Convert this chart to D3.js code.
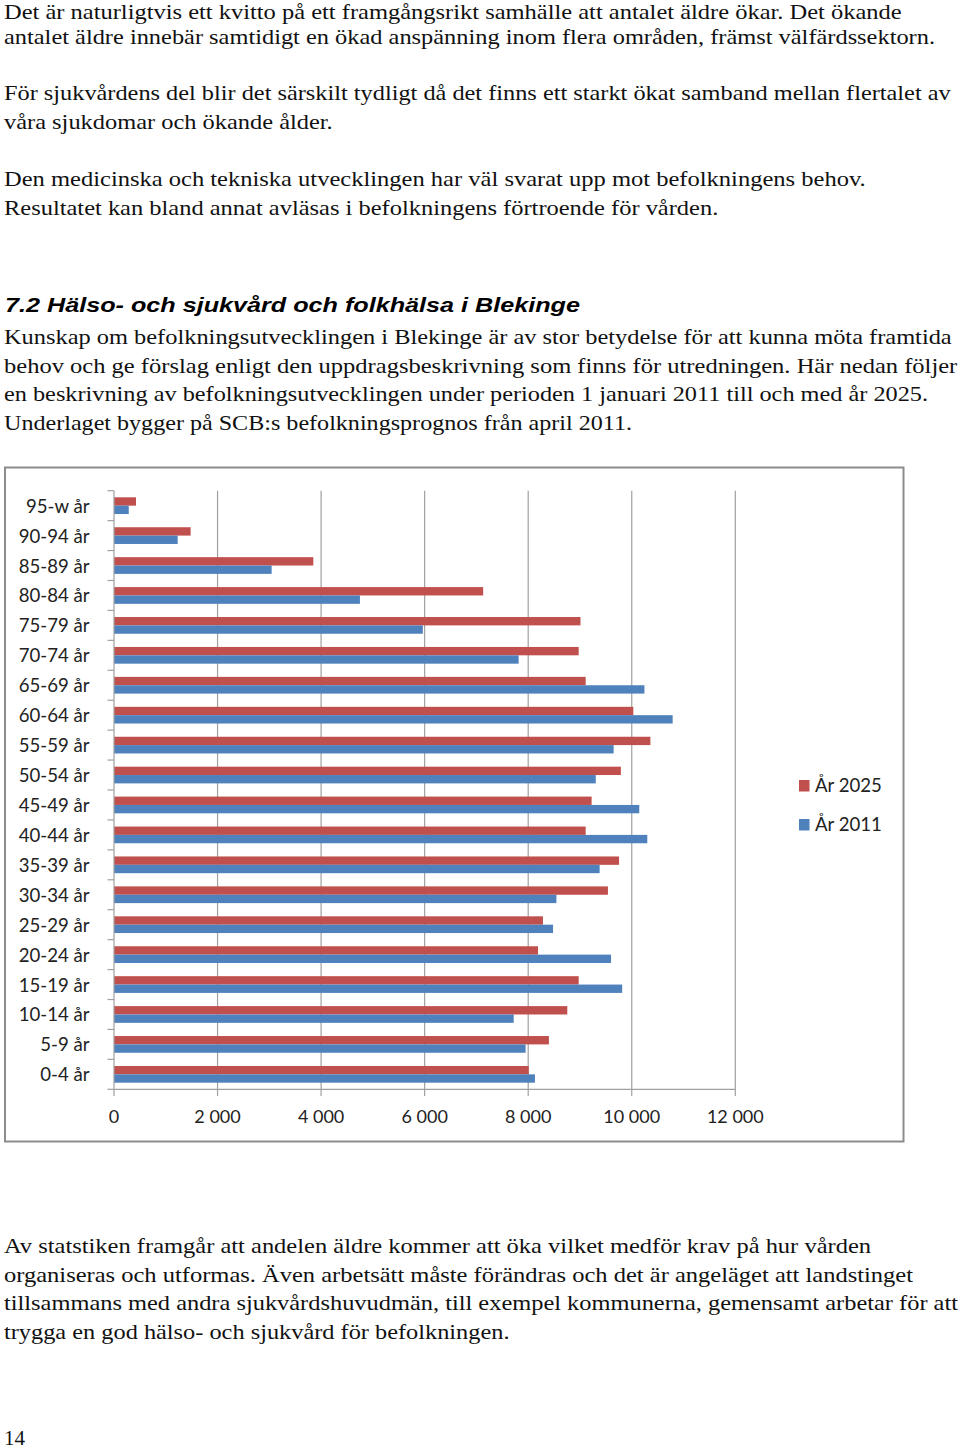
<!DOCTYPE html>
<html><head><meta charset="utf-8">
<script src="https://cdn.jsdelivr.net/npm/d3@7"></script>
<style>html,body{margin:0;padding:0;background:#fff;}svg{display:block;}</style>
</head><body>
<svg id="page" width="960" height="1450"></svg>
<script>
// ---- data ----
const categories = ["95-w år","90-94 år","85-89 år","80-84 år","75-79 år","70-74 år","65-69 år","60-64 år","55-59 år","50-54 år","45-49 år","40-44 år","35-39 år","30-34 år","25-29 år","20-24 år","15-19 år","10-14 år","5-9 år","0-4 år"];
const values2025 = [425,1480,3850,7130,9010,8975,9110,10030,10360,9790,9225,9110,9755,9540,8285,8190,8975,8755,8400,8010];
const values2011 = [285,1230,3045,4750,5965,7815,10245,10790,9650,9305,10145,10300,9380,8545,8480,9600,9815,7720,7950,8130];
const seriesNames = ["År 2025","År 2011"];
const xTicks = [0,2000,4000,6000,8000,10000,12000];
const xTickLabels = ["0","2 000","4 000","6 000","8 000","10 000","12 000"];

const introLines = [
  "Det är naturligtvis ett kvitto på ett framgångsrikt samhälle att antalet äldre ökar. Det ökande",
  "antalet äldre innebär samtidigt en ökad anspänning inom flera områden, främst välfärdssektorn.",
  "För sjukvårdens del blir det särskilt tydligt då det finns ett starkt ökat samband mellan flertalet av",
  "våra sjukdomar och ökande ålder.",
  "Den medicinska och tekniska utvecklingen har väl svarat upp mot befolkningens behov.",
  "Resultatet kan bland annat avläsas i befolkningens förtroende för vården."
];
const heading = "7.2 Hälso- och sjukvård och folkhälsa i Blekinge";
const para2Lines = [
  "Kunskap om befolkningsutvecklingen i Blekinge är av stor betydelse för att kunna möta framtida",
  "behov och ge förslag enligt den uppdragsbeskrivning som finns för utredningen. Här nedan följer",
  "en beskrivning av befolkningsutvecklingen under perioden 1 januari 2011 till och med år 2025.",
  "Underlaget bygger på SCB:s befolkningsprognos från april 2011."
];
const para3Lines = [
  "Av statstiken framgår att andelen äldre kommer att öka vilket medför krav på hur vården",
  "organiseras och utformas. Även arbetsätt måste förändras och det är angeläget att landstinget",
  "tillsammans med andra sjukvårdshuvudmän, till exempel kommunerna, gemensamt arbetar för att",
  "trygga en god hälso- och sjukvård för befolkningen."
];
const pageNumber = "14";

// ---- layout ----
const svg = d3.select("#page");
const serif = "'Liberation Serif', 'DejaVu Serif', serif";
const sansChart = "Lato, 'Open Sans', sans-serif";

function textBlock(lines, baselines, ends, x0, size, family) {
  lines.forEach((t, i) => {
    svg.append("text")
      .attr("x", x0).attr("y", baselines[i])
      .attr("font-family", family).attr("font-size", size)
      .attr("fill", "#111")
      .attr("textLength", ends[i] - x0)
      .attr("lengthAdjust", "spacingAndGlyphs")
      .text(t);
  });
}

textBlock(introLines, [18.5, 44, 100, 128.5, 186, 214.5], [901.7, 935, 950.7, 332.7, 865.7, 718.3], 4, 21.5, serif);
svg.append("text").attr("x", 5).attr("y", 311.7)
  .attr("font-family", "'Liberation Sans', Arial, sans-serif").attr("font-size", 20)
  .attr("font-weight", "bold").attr("font-style", "italic").attr("fill", "#000")
  .attr("textLength", 575).attr("lengthAdjust", "spacingAndGlyphs")
  .text(heading);
textBlock(para2Lines, [344, 372.7, 401, 429.5], [951.7, 957.3, 928, 632], 4, 21.5, serif);
textBlock(para3Lines, [1252.7, 1281.7, 1310, 1338.5], [871, 913, 958, 509.5], 4, 21.5, serif);
svg.append("text").attr("x", 4).attr("y", 1445).attr("font-family", serif)
  .attr("font-size", 21).attr("fill", "#111").text(pageNumber);

// ---- chart ----
svg.append("rect").attr("x", 5).attr("y", 467.5).attr("width", 898.5).attr("height", 674)
  .attr("fill", "#fff").attr("stroke", "#8c8c8c").attr("stroke-width", 2);

const x = d3.scaleLinear().domain([0, 12000]).range([114, 735.3]);
const y = d3.scaleBand().domain(categories).range([490.7, 1089.3]).paddingInner(0).paddingOuter(0);
const sub = d3.scaleBand().domain(seriesNames).range([0, y.bandwidth()]).paddingInner(0).paddingOuter(0.79);
const color = d3.scaleOrdinal().domain(seriesNames).range(["#C0504D", "#4F81BD"]);

const g = svg.append("g");
// gridlines
g.selectAll(".grid").data(xTicks.slice(1)).join("line")
  .attr("x1", d => x(d)).attr("x2", d => x(d))
  .attr("y1", 490.7).attr("y2", 1096)
  .attr("stroke", "#a0a0a0").attr("stroke-width", 1.2);

// bars
const rows = categories.map((c, i) => ({cat: c, vals: [values2025[i], values2011[i]]}));
const grp = g.selectAll(".row").data(rows).join("g")
  .attr("transform", d => `translate(0,${y(d.cat)})`);
grp.selectAll("rect").data(d => d.vals.map((v, k) => ({name: seriesNames[k], v})))
  .join("rect")
  .attr("x", x(0)).attr("y", d => sub(d.name))
  .attr("width", d => x(d.v) - x(0)).attr("height", sub.bandwidth())
  .attr("fill", d => color(d.name));

// axes lines
g.append("line").attr("x1", x(0)).attr("x2", x(0)).attr("y1", 490.7).attr("y2", 1096)
  .attr("stroke", "#a0a0a0").attr("stroke-width", 1.2);
g.append("line").attr("x1", x(0)).attr("x2", x(12000)).attr("y1", 1089.3).attr("y2", 1089.3)
  .attr("stroke", "#a0a0a0").attr("stroke-width", 1.2);
// category ticks
const bounds = categories.map(c => y(c)).concat([y.range()[1]]);
g.selectAll(".ctick").data(bounds).join("line")
  .attr("x1", 107.5).attr("x2", x(0)).attr("y1", d => d).attr("y2", d => d)
  .attr("stroke", "#a0a0a0").attr("stroke-width", 1.2);

// category labels
g.selectAll(".clabel").data(categories).join("text")
  .attr("x", 89.5).attr("y", d => y(d) + y.bandwidth() / 2 + 7)
  .attr("text-anchor", "end").attr("font-family", sansChart).attr("font-size", 18.6)
  .attr("fill", "#222").text(d => d);

// x tick labels
g.selectAll(".xlabel").data(xTicks).join("text")
  .attr("x", d => x(d)).attr("y", 1122.7).attr("text-anchor", "middle")
  .attr("font-family", sansChart).attr("font-size", 18).attr("fill", "#222")
  .text((d, i) => xTickLabels[i]);

// legend
const leg = g.selectAll(".leg").data(seriesNames).join("g")
  .attr("transform", (d, i) => `translate(799,${780 + i * 39})`);
leg.append("rect").attr("width", 10.5).attr("height", 11.5).attr("fill", d => color(d));
leg.append("text").attr("x", 16).attr("y", 12).attr("font-family", sansChart)
  .attr("font-size", 18.6).attr("fill", "#222").text(d => d);
</script>
</body></html>
